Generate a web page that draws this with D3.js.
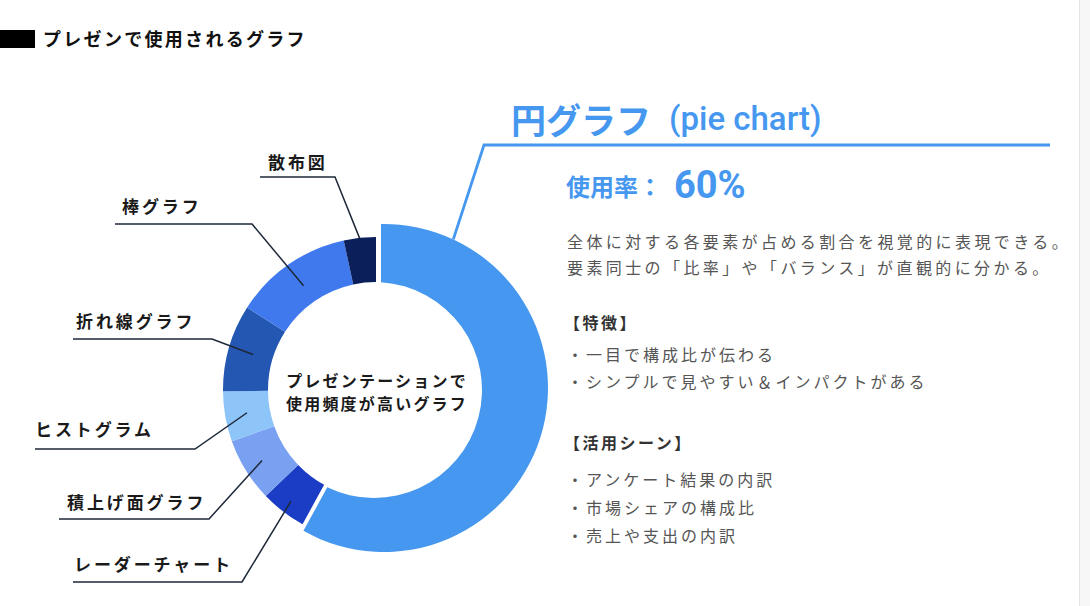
<!DOCTYPE html>
<html><head><meta charset="utf-8">
<script src="https://cdn.jsdelivr.net/npm/d3@7"></script>
<style>
html,body{margin:0;padding:0;background:#fff;}
svg{display:block;}
text{font-family:"Noto Sans CJK JP","Noto Sans",sans-serif;}
</style></head>
<body><svg id="chart" width="1090" height="606"></svg>
<script>
// ---- data ----
const categories = ["円グラフ","レーダーチャート","積上げ面グラフ","ヒストグラム","折れ線グラフ","棒グラフ","散布図"];
const values = [60, 5, 7, 5.5, 9.5, 13, 3.5];
const colors = ["#4597ef","#1b3cc4","#79a0f1","#8ec5f9","#2457b2","#4079ee","#0b1f5b"];
const chartTitle = "プレゼンで使用されるグラフ";
const centerLines = ["プレゼンテーションで","使用頻度が高いグラフ"];
const featureTitle = "円グラフ";
const featureTitleEn = "(pie chart)";
const usageLabel = "使用率：";
const usageValue = "60%";
const descLines = ["全体に対する各要素が占める割合を視覚的に表現できる。","要素同士の「比率」や「バランス」が直観的に分かる。"];
const traitsHead = "【特徴】";
const traits = ["・一目で構成比が伝わる","・シンプルで見やすい＆インパクトがある"];
const scenesHead = "【活用シーン】";
const scenes = ["・アンケート結果の内訳","・市場シェアの構成比","・売上や支出の内訳"];

// ---- layout ----
const C = {x:376, y:390};
const rIn = 108, rOut = 153;
const big = {ox:8, oy:-2, R:164, ix:-2, iy:0, r:108, gapStart:5, gapEnd:4};
// label layout for the small slices (index 1..6)
const labelLayout = {
  1:{tx:74, ty:563, x0:73, ly:582, x1:242, rr:140},
  2:{tx:67, ty:501, x0:59, ly:519, x1:209, rr:134},
  3:{tx:35, ty:428, x0:35, ly:449, x1:195, rr:131},
  4:{tx:76, ty:320, x0:73, ly:339, x1:212, rr:128},
  5:{tx:122,ty:205, x0:115,ly:224, x1:252, rr:127},
  6:{tx:268,ty:161, x0:260,ly:177, x1:335, rr:152}
};

const svg = d3.select("#chart");
svg.append("rect").attr("x",1079).attr("y",0).attr("width",11).attr("height",606).attr("fill","#f7f7f7");
svg.append("line").attr("x1",1079.5).attr("x2",1079.5).attr("y1",0).attr("y2",606).attr("stroke","#e4e4e4");

// title
svg.append("rect").attr("x",0).attr("y",30).attr("width",35).attr("height",18).attr("fill","#000");
svg.append("text").attr("x",43).attr("y",38).attr("dominant-baseline","central")
  .attr("font-size",18).attr("font-weight","bold").attr("letter-spacing",2.3).attr("fill","#111").text(chartTitle);

const pie = d3.pie().sort(null).value(d=>d);
const arcs = pie(values);
const g = svg.append("g").attr("transform",`translate(${C.x},${C.y})`);
const arcGen = d3.arc().innerRadius(rIn).outerRadius(rOut);

// small slices
g.selectAll("path.small").data(arcs.slice(1)).join("path")
  .attr("class","small").attr("d",arcGen).attr("fill",(d,i)=>colors[i+1]);

// big slice: outer and inner circles with different centres
function edgePoint(a, d, cx, cy, rho){
  const u=[Math.sin(a),-Math.cos(a)], n=[Math.cos(a),Math.sin(a)];
  const w=[d*n[0]-cx, d*n[1]-cy];
  const b=w[0]*u[0]+w[1]*u[1];
  const t=-b+Math.sqrt(b*b-(w[0]*w[0]+w[1]*w[1]-rho*rho));
  return [d*n[0]+t*u[0], d*n[1]+t*u[1]];
}
const A = arcs[0];
const po0 = edgePoint(A.startAngle, big.gapStart, big.ox, big.oy, big.R);
const po1 = edgePoint(A.endAngle, -big.gapEnd, big.ox, big.oy, big.R);
const pi0 = edgePoint(A.startAngle, big.gapStart, big.ix, big.iy, big.r);
const pi1 = edgePoint(A.endAngle, -big.gapEnd, big.ix, big.iy, big.r);
const ang=(p,cx,cy)=>Math.atan2(p[1]-cy,p[0]-cx);
const p = d3.path();
p.moveTo(po0[0],po0[1]);
p.arc(big.ox,big.oy,big.R,ang(po0,big.ox,big.oy),ang(po1,big.ox,big.oy),false);
p.lineTo(pi1[0],pi1[1]);
p.arc(big.ix,big.iy,big.r,ang(pi1,big.ix,big.iy),ang(pi0,big.ix,big.iy),true);
p.closePath();
g.append("path").attr("d",p.toString()).attr("fill",colors[0]);

// leader lines for small slices
const lineColor="#1d2838";
arcs.slice(1).forEach((d,k)=>{
  const i=k+1, L=labelLayout[i];
  const c = d3.arc().innerRadius(L.rr).outerRadius(L.rr).centroid(d);
  const pts=[[L.x0,L.ly],[L.x1,L.ly],[c[0]+C.x,c[1]+C.y]];
  svg.append("path").attr("d",d3.line()(pts)).attr("fill","none")
    .attr("stroke",lineColor).attr("stroke-width",1.5);
  svg.append("text").attr("x",L.tx).attr("y",L.ty).attr("dominant-baseline","central")
    .attr("font-size",17).attr("font-weight","bold").attr("letter-spacing",2.9)
    .attr("fill","#1a1a1a").text(categories[i]);
});

// leader for the big slice
const la = 25*Math.PI/180;
const bp=[C.x+big.ox+big.R*Math.sin(la), C.y+big.oy-big.R*Math.cos(la)];
svg.append("path").attr("d",d3.line()([bp,[484,145],[1050,145]])).attr("fill","none")
  .attr("stroke","#4597ef").attr("stroke-width",2.8);

// centre text
centerLines.forEach((t,i)=>{
  svg.append("text").attr("x",C.x+1).attr("y",380+i*23).attr("text-anchor","middle")
    .attr("dominant-baseline","central").attr("font-size",16).attr("font-weight","bold")
    .attr("letter-spacing",2.2).attr("fill","#1a1a1a").text(t);
});

// right panel
const blue="#4597ef";
const t1 = svg.append("text").attr("x",511).attr("y",118).attr("dominant-baseline","central")
  .attr("font-weight","bold").attr("fill",blue);
t1.append("tspan").attr("font-size",35).text(featureTitle);
t1.append("tspan").attr("font-size",33).attr("dx",18).attr("font-weight",500).attr("font-family","Roboto,'Noto Sans',sans-serif").text(featureTitleEn);

const t2 = svg.append("text").attr("x",566).attr("y",185).attr("dominant-baseline","central")
  .attr("font-weight","bold").attr("fill",blue);
t2.append("tspan").attr("font-size",24).text(usageLabel);
t2.append("tspan").attr("font-size",38).attr("dx",12).attr("font-family","Roboto,'Noto Sans',sans-serif").text(usageValue);

descLines.forEach((t,i)=>{
  svg.append("text").attr("x",567).attr("y",241+i*26).attr("dominant-baseline","central")
    .attr("font-size",16).attr("letter-spacing",3.4).attr("fill","#555").text(t);
});
svg.append("text").attr("x",564).attr("y",322).attr("dominant-baseline","central")
  .attr("font-size",16).attr("font-weight","bold").attr("letter-spacing",2.5).attr("fill","#333").text(traitsHead);
traits.forEach((t,i)=>{
  svg.append("text").attr("x",567).attr("y",354+i*27).attr("dominant-baseline","central")
    .attr("font-size",16).attr("letter-spacing",3).attr("fill","#555").text(t);
});
svg.append("text").attr("x",564).attr("y",442).attr("dominant-baseline","central")
  .attr("font-size",16).attr("font-weight","bold").attr("letter-spacing",2.5).attr("fill","#333").text(scenesHead);
scenes.forEach((t,i)=>{
  svg.append("text").attr("x",567).attr("y",479+i*28).attr("dominant-baseline","central")
    .attr("font-size",16).attr("letter-spacing",3).attr("fill","#555").text(t);
});
</script></body></html>
